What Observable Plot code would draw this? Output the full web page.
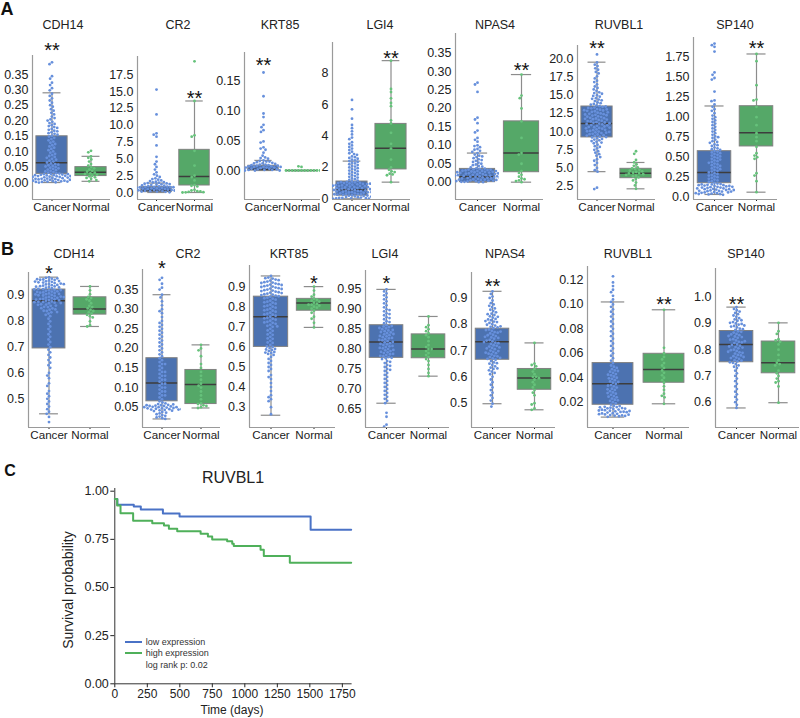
<!DOCTYPE html>
<html><head><meta charset="utf-8">
<script src="https://cdn.jsdelivr.net/npm/d3@7"></script>
<script src="https://cdn.jsdelivr.net/npm/@observablehq/plot@0.6"></script>
<style>
body{margin:0;background:#fff;font-family:"Liberation Sans",Arial,sans-serif;}
#fig{position:relative;width:800px;height:718px;overflow:hidden;background:#fff;}
.lbl{position:absolute;transform:translate(-50%,-50%);white-space:nowrap;line-height:1;color:#222;}
.lft{position:absolute;transform:translate(0,-50%);white-space:nowrap;line-height:1;color:#333;}
svg{position:absolute;overflow:visible;}
#fig svg g[aria-label^="y-axis"] text{font-size:12.5px;}
#fig svg g[aria-label^="fx-axis"] text{font-size:11.6px;}
#fig svg g[aria-label^="x-axis"] text{font-size:12px;}
</style></head>
<body><div id="fig"></div>
<script>
// ================= DATA =================
const groups = ["Cancer", "Normal"];
const genes = ["CDH14", "CR2", "KRT85", "LGI4", "NPAS4", "RUVBL1", "SP140"];
// box stats per group: [lower whisker, Q1, median, Q3, upper whisker]

// ---- Panel A (expression) ----
const aCDH14Cancer = [0.39,0.384,0.345,0.337,0.324,0.316,0.306,0.299,0.288,0.281,0.273,0.266,0.259,0.251,0.246,0.238,0.233,0.226,0.221,0.214,0.209,0.205,0.201,0.197,0.193,0.19,0.186,0.183,0.18,0.177,0.174,0.171,0.168,0.166,0.163,0.16,0.158,0.155,0.152,0.149,0.145,0.141,0.137,0.133,0.129,0.125,0.121,0.117,0.113,0.109,0.105,0.101,0.097,0.093,0.089,0.086,0.083,0.08,0.077,0.074,0.071,0.068,0.065,0.062,0.06,0.058,0.056,0.054,0.052,0.05,0.048,0.046,0.044,0.042,0.04,0.038,0.036,0.034,0.032,0.03,0.029,0.028,0.027,0.026,0.025,0.024,0.023,0.022,0.021,0.02,0.019,0.018,0.017,0.016,0.015,0.014,0.013,0.012,0.011,0.01,0.009,0.008,0.007,0.006,0.005,0.004,0.003,0.002,0.001,0.0,0.027,0.024,0.021,0.018,0.015,0.012,0.009,0.006,0.003,0.025,0.02,0.016,0.011,0.007,0.002];
const aCDH14Normal = [0.103,0.098,0.085,0.08,0.075,0.068,0.06,0.055,0.05,0.046,0.042,0.038,0.035,0.032,0.03,0.028,0.025,0.022,0.02,0.017,0.015,0.012,0.008,0.004];
const aCDH14Box = [[0.0,0.028,0.064,0.15,0.291],[0.004,0.021,0.033,0.05,0.085]];
const aCDH14Ticks = ["0.00","0.05","0.10","0.15","0.20","0.25","0.30","0.35"];
const aCDH14Domain = [-0.055, 0.412];
const aCDH14Stars = [{g:"Cancer", s:"**", y:0.444}];

const aCR2Cancer = [15.3,11.6,8.8,8.6,8.3,7.0,5.3,4.6,4.2,3.8,3.4,3.0,2.7,2.5,2.3,2.1,2.0,1.9,1.8,1.7,1.6,1.55,1.5,1.45,1.4,1.35,1.3,1.25,1.2,1.15,1.1,1.05,1.0,0.95,0.9,0.88,0.85,0.82,0.8,0.78,0.75,0.72,0.7,0.68,0.65,0.62,0.6,0.58,0.55,0.52,0.5,0.48,0.45,0.42,0.4,0.38,0.36,0.34,0.32,0.3,0.28,0.26,0.24,0.22,0.2,0.19,0.18,0.17,0.16,0.15,0.14,0.13,0.12,0.11,0.1,0.09,0.08,0.07,0.06,0.05,0.04,0.03,0.02,0.01,0.0,0.25,0.15,0.05,0.1,0.2,0.35,0.45];
const aCR2Normal = [19.5,13.6,8.5,8.3,6.2,4.0,2.5,2.3,1.8,1.1,1.0,0.9,0.4,0.3,0.2,0.15,0.1,0.05,0.02,0.0];
const aCR2Box = [[0.0,0.05,0.3,0.8,1.4],[0.0,1.04,2.38,6.34,13.6]];
const aCR2Ticks = ["0.0","2.5","5.0","7.5","10.0","12.5","15.0","17.5"];
const aCR2Domain = [-1.04, 20.21];
const aCR2Stars = [{g:"Normal", s:"**", y:14.75}];

const aKRT85Cancer = [0.165,0.125,0.096,0.09,0.077,0.073,0.068,0.065,0.049,0.047,0.039,0.037,0.035,0.03,0.025,0.022,0.021,0.02,0.017,0.016,0.015,0.015,0.014,0.013,0.012,0.012,0.011,0.01,0.01,0.009,0.009,0.008,0.008,0.007,0.007,0.006,0.006,0.006,0.005,0.005,0.005,0.004,0.004,0.004,0.003,0.003,0.003,0.003,0.002,0.002,0.002,0.002,0.002,0.001,0.001,0.001,0.001,0.001,0.001,0,0,0,0,0,0,0,0,0,0,0,0,0,0,0];
const aKRT85Normal = [0.006,0,0,0,0,0,0,0,0,0,0,0,0,0.007];
const aKRT85Box = [[0,0,0.002,0.008,0.017],[0,0,0,0,0]];
const aKRT85Ticks = ["0.00","0.05","0.10","0.15"];
const aKRT85Domain = [-0.0488, 0.1987];
const aKRT85Stars = [{g:"Cancer", s:"**", y:0.185}];

const aLGI4Cancer = [6.3,5.7,5.1,4.7,4.5,4.3,4.1,3.9,3.8,3.6,3.5,3.4,3.3,3.2,3.1,3.0,2.9,2.85,2.8,2.7,2.65,2.6,2.55,2.5,2.45,2.4,2.35,2.3,2.25,2.2,2.15,2.1,2.05,2.0,1.95,1.9,1.85,1.8,1.75,1.7,1.65,1.6,1.55,1.5,1.45,1.4,1.35,1.3,1.25,1.2,1.15,1.1,1.08,1.05,1.02,1.0,0.98,0.95,0.92,0.9,0.88,0.85,0.82,0.8,0.78,0.75,0.72,0.7,0.68,0.65,0.62,0.6,0.58,0.55,0.52,0.5,0.48,0.45,0.42,0.4,0.38,0.35,0.32,0.3,0.28,0.25,0.22,0.2,0.18,0.15,0.12,0.1,0.08,0.06,0.05,0.04,0.03,0.02,0.01,0.0,1.06,1.0,0.94,0.87,0.81,0.74,0.67,0.61,0.54,0.47,0.41,0.34,0.27,0.21,0.14,0.07,0.02,0.96,0.83,0.69,0.56,0.43,0.29,0.16,0.04];
const aLGI4Normal = [8.8,7.0,6.8,6.4,6.1,5.9,5.0,4.8,4.2,3.5,3.2,2.5,2.0,1.85,1.75,1.7,1.6,1.55,1.5,1.06];
const aLGI4Box = [[0.0,0.2,0.57,1.1,2.4],[1.06,1.87,3.22,4.77,8.8]];
const aLGI4Ticks = ["0","2","4","6","8"];
const aLGI4Domain = [-0.045, 9.955];
const aLGI4Stars = [{g:"Normal", s:"**", y:9.24}];

const aNPAS4Cancer = [0.27,0.265,0.245,0.175,0.17,0.16,0.14,0.135,0.12,0.115,0.11,0.1,0.098,0.095,0.09,0.088,0.085,0.082,0.079,0.075,0.072,0.07,0.068,0.065,0.062,0.06,0.058,0.055,0.053,0.05,0.048,0.046,0.044,0.042,0.04,0.038,0.037,0.036,0.035,0.034,0.033,0.032,0.031,0.03,0.029,0.028,0.027,0.026,0.025,0.024,0.023,0.022,0.021,0.02,0.019,0.018,0.017,0.016,0.015,0.014,0.013,0.012,0.011,0.01,0.009,0.008,0.007,0.006,0.005,0.004,0.003,0.002,0.001,0.0,0.034,0.031,0.028,0.025,0.022,0.019,0.016,0.013,0.01,0.007,0.004,0.001,0.03,0.024,0.018,0.012,0.006,0.0,0.027,0.015,0.003];
const aNPAS4Normal = [0.292,0.235,0.228,0.2,0.165,0.12,0.079,0.075,0.05,0.03,0.025,0.02,0.015,0.01,0.008,0.005,0.003,0.0];
const aNPAS4Box = [[0.0,0.0,0.015,0.036,0.079],[0.0,0.027,0.079,0.165,0.292]];
const aNPAS4Ticks = ["0.00","0.05","0.10","0.15","0.20","0.25","0.30","0.35"];
const aNPAS4Domain = [-0.047, 0.4034];
const aNPAS4Stars = [{g:"Normal", s:"**", y:0.3166}];

const aRUVBL1Cancer = [20.6,19.5,19.2,19.0,18.7,18.5,18.2,18.0,17.6,17.3,17.0,16.8,16.5,16.2,16.0,15.8,15.6,15.4,15.3,15.2,15.0,14.9,14.8,14.6,14.5,14.4,14.3,14.2,14.0,13.9,13.8,13.7,13.6,13.5,13.4,13.3,13.2,13.1,13.0,12.9,12.8,12.7,12.6,12.5,12.4,12.3,12.2,12.1,12.0,11.9,11.8,11.7,11.6,11.5,11.4,11.3,11.2,11.1,11.0,10.9,10.8,10.7,10.6,10.5,10.4,10.3,10.2,10.1,10.0,9.9,9.8,9.7,9.6,9.5,9.4,9.3,9.2,13.45,13.25,13.05,12.85,12.65,12.45,12.25,12.05,11.85,11.65,11.45,11.25,11.05,10.85,10.65,10.45,10.25,10.05,9.85,9.65,9.45,9.25,12.95,12.35,11.75,11.15,10.55,9.95,9.1,9.0,8.9,8.8,8.7,8.6,8.5,8.4,8.2,8.0,7.9,7.7,7.5,7.3,7.1,6.9,6.7,6.5,6.2,6.0,5.7,5.4,5.0,4.7,4.5,2.3,2.1];
const aRUVBL1Normal = [7.3,6.95,6.1,5.76,5.5,5.3,5.1,4.95,4.85,4.75,4.65,4.55,4.45,4.35,4.3,4.25,4.15,4.05,3.95,3.85,3.7,3.5,3.3,3.0,2.6,2.14];
const aRUVBL1Box = [[4.5,9.2,11.1,13.45,19.54],[2.14,3.6,4.29,4.89,5.76]];
const aRUVBL1Ticks = ["2.5","5.0","7.5","10.0","12.5","15.0","17.5","20.0"];
const aRUVBL1Domain = [0.673, 21.83];
const aRUVBL1Stars = [{g:"Cancer", s:"**", y:22.14}];

const aSP140Cancer = [1.92,1.9,1.88,1.82,1.56,1.53,1.49,1.47,1.32,1.21,1.2,1.16,1.13,1.1,1.08,1.05,1.02,1.0,0.98,0.96,0.94,0.92,0.9,0.88,0.86,0.84,0.82,0.8,0.78,0.76,0.75,0.74,0.72,0.7,0.69,0.68,0.66,0.65,0.64,0.62,0.61,0.6,0.59,0.58,0.57,0.56,0.55,0.54,0.53,0.52,0.51,0.5,0.49,0.48,0.47,0.46,0.45,0.44,0.43,0.42,0.41,0.4,0.39,0.38,0.37,0.36,0.35,0.34,0.33,0.32,0.31,0.3,0.29,0.28,0.27,0.26,0.25,0.24,0.23,0.22,0.21,0.2,0.19,0.18,0.17,0.165,0.16,0.155,0.15,0.145,0.14,0.135,0.13,0.125,0.12,0.115,0.11,0.105,0.1,0.095,0.09,0.085,0.08,0.075,0.07,0.065,0.06,0.055,0.05,0.045,0.04,0.035,0.03,0.16,0.14,0.12,0.1,0.08,0.06,0.04,0.15,0.11,0.07,0.05,0.13,0.09];
const aSP140Normal = [1.79,1.7,1.4,1.22,1.21,1.13,1.0,0.9,0.8,0.75,0.7,0.63,0.55,0.52,0.5,0.48,0.3,0.27,0.2,0.0625];
const aSP140Box = [[0.034,0.175,0.31,0.575,1.14],[0.0625,0.634,0.805,1.137,1.79]];
const aSP140Ticks = ["0.0","0.25","0.50","0.75","1.00","1.25","1.50","1.75"];
const aSP140Domain = [-0.029, 1.996];
const aSP140Stars = [{g:"Normal", s:"**", y:1.92}];

// ---- Panel B ----
const bCDH14Cancer = [0.97,0.968,0.965,0.962,0.96,0.958,0.955,0.953,0.95,0.948,0.945,0.943,0.94,0.938,0.935,0.933,0.93,0.928,0.925,0.922,0.92,0.918,0.915,0.912,0.91,0.908,0.905,0.902,0.9,0.898,0.895,0.892,0.89,0.887,0.885,0.882,0.88,0.877,0.875,0.872,0.87,0.865,0.86,0.855,0.85,0.845,0.84,0.835,0.83,0.825,0.82,0.81,0.8,0.79,0.78,0.77,0.76,0.75,0.74,0.73,0.72,0.71,0.7,0.69,0.68,0.67,0.66,0.65,0.64,0.63,0.62,0.6,0.59,0.58,0.56,0.55,0.53,0.52,0.51,0.5,0.49,0.48,0.47,0.46,0.45,0.442,0.43,0.41,0.966,0.961,0.956,0.951,0.946,0.941,0.936,0.931,0.926,0.921,0.916,0.911,0.906,0.901,0.896,0.891,0.886,0.881,0.876,0.871,0.866,0.861,0.856,0.851,0.846,0.841,0.836,0.963,0.954,0.944,0.934,0.924,0.914,0.904,0.894,0.884,0.874,0.864];
const bCDH14Normal = [0.935,0.92,0.905,0.895,0.89,0.885,0.88,0.87,0.86,0.855,0.85,0.845,0.84,0.835,0.83,0.825,0.82,0.815,0.8,0.785,0.78];
const bCDH14Box = [[0.442,0.695,0.88,0.923,0.971],[0.78,0.826,0.848,0.893,0.935]];
const bCDH14Ticks = ["0.5","0.6","0.7","0.8","0.9"];
const bCDH14Domain = [0.389, 0.989];
const bCDH14Stars = [{g:"Cancer", s:"*", y:1.003}];

const bCR2Cancer = [0.38,0.375,0.365,0.355,0.35,0.337,0.33,0.32,0.31,0.3,0.295,0.29,0.28,0.27,0.265,0.26,0.255,0.25,0.245,0.24,0.235,0.23,0.225,0.22,0.215,0.21,0.205,0.2,0.195,0.19,0.185,0.18,0.175,0.17,0.165,0.16,0.155,0.15,0.145,0.14,0.135,0.13,0.125,0.12,0.115,0.11,0.105,0.1,0.095,0.09,0.085,0.08,0.075,0.07,0.065,0.062,0.06,0.058,0.056,0.055,0.054,0.053,0.052,0.051,0.05,0.049,0.048,0.047,0.046,0.045,0.044,0.043,0.042,0.04,0.038,0.036,0.034,0.032,0.03,0.028,0.026,0.024,0.022,0.02,0.057,0.053,0.05,0.047,0.044,0.041,0.055,0.05,0.045,0.16,0.13,0.1,0.08,0.12,0.14,0.11,0.09];
const bCR2Normal = [0.209,0.2,0.195,0.18,0.16,0.15,0.14,0.13,0.12,0.11,0.105,0.1,0.09,0.08,0.07,0.06,0.058,0.055,0.053,0.05,0.048];
const bCR2Box = [[0.02,0.065,0.112,0.175,0.337],[0.048,0.058,0.108,0.145,0.209]];
const bCR2Ticks = ["0.05","0.10","0.15","0.20","0.25","0.30","0.35"];
const bCR2Domain = [-0.0018, 0.4013];
const bCR2Stars = [{g:"Cancer", s:"*", y:0.4156}];

const bKRT85Cancer = [0.953,0.945,0.94,0.935,0.93,0.925,0.92,0.915,0.91,0.905,0.9,0.895,0.89,0.885,0.88,0.875,0.87,0.865,0.86,0.855,0.85,0.845,0.84,0.835,0.83,0.825,0.82,0.815,0.81,0.805,0.8,0.795,0.79,0.785,0.78,0.775,0.77,0.765,0.76,0.755,0.75,0.745,0.74,0.735,0.73,0.725,0.72,0.715,0.71,0.705,0.7,0.69,0.68,0.67,0.66,0.65,0.64,0.63,0.62,0.61,0.6,0.595,0.59,0.585,0.58,0.575,0.57,0.565,0.56,0.55,0.54,0.53,0.52,0.51,0.5,0.49,0.48,0.46,0.45,0.44,0.42,0.4,0.38,0.36,0.35,0.34,0.33,0.3,0.265,0.942,0.932,0.922,0.912,0.902,0.892,0.882,0.872,0.862,0.852,0.918,0.898,0.878,0.858,0.908,0.888,0.868,0.842,0.822,0.802,0.782,0.762,0.742,0.722,0.702,0.682,0.662,0.642,0.622,0.602,0.587,0.572];
const bKRT85Normal = [0.9,0.88,0.86,0.85,0.84,0.835,0.83,0.825,0.82,0.815,0.81,0.81,0.805,0.8,0.795,0.79,0.78,0.77,0.75,0.74,0.72,0.697];
const bKRT85Box = [[0.26,0.6,0.75,0.85,0.953],[0.697,0.78,0.819,0.839,0.9]];
const bKRT85Ticks = ["0.3","0.4","0.5","0.6","0.7","0.8","0.9"];
const bKRT85Domain = [0.199, 1.005];
const bKRT85Stars = [{g:"Normal", s:"*", y:0.938}];

const bLGI4Cancer = [0.95,0.945,0.94,0.935,0.93,0.925,0.92,0.915,0.91,0.905,0.9,0.895,0.89,0.885,0.88,0.875,0.87,0.865,0.86,0.857,0.855,0.852,0.85,0.847,0.845,0.842,0.84,0.837,0.835,0.832,0.83,0.827,0.825,0.822,0.82,0.817,0.815,0.812,0.81,0.807,0.805,0.802,0.8,0.797,0.795,0.792,0.79,0.787,0.785,0.782,0.78,0.777,0.775,0.77,0.765,0.76,0.755,0.75,0.745,0.74,0.735,0.73,0.725,0.72,0.715,0.71,0.705,0.7,0.695,0.69,0.685,0.68,0.675,0.67,0.664,0.64,0.63,0.61,0.605,0.858,0.853,0.848,0.843,0.838,0.833,0.828,0.823,0.818,0.813,0.808,0.803,0.798,0.793,0.788,0.783,0.778,0.898,0.888,0.878,0.868,0.768,0.758,0.748];
const bLGI4Normal = [0.882,0.86,0.855,0.85,0.845,0.84,0.835,0.83,0.82,0.81,0.805,0.8,0.8,0.795,0.79,0.785,0.78,0.775,0.77,0.76,0.75,0.74,0.732];
const bLGI4Box = [[0.664,0.778,0.818,0.86,0.95],[0.732,0.777,0.8,0.837,0.882]];
const bLGI4Ticks = ["0.65","0.70","0.75","0.80","0.85","0.90","0.95"];
const bLGI4Domain = [0.603, 0.9975];
const bLGI4Stars = [{g:"Cancer", s:"*", y:0.977}];

const bNPAS4Cancer = [0.925,0.915,0.905,0.9,0.89,0.88,0.875,0.87,0.865,0.86,0.855,0.85,0.845,0.84,0.835,0.83,0.825,0.82,0.815,0.81,0.805,0.8,0.795,0.79,0.785,0.78,0.775,0.77,0.765,0.76,0.755,0.75,0.745,0.74,0.735,0.73,0.725,0.72,0.715,0.71,0.705,0.7,0.695,0.69,0.685,0.68,0.675,0.67,0.665,0.66,0.655,0.65,0.645,0.64,0.635,0.63,0.625,0.62,0.615,0.61,0.6,0.59,0.58,0.57,0.56,0.55,0.54,0.53,0.52,0.51,0.498,0.487,0.838,0.828,0.818,0.808,0.798,0.788,0.778,0.768,0.758,0.748,0.738,0.728,0.718,0.708,0.698,0.688,0.678,0.668,0.812,0.792,0.772,0.752,0.732,0.712,0.692,0.672,0.652,0.632];
const bNPAS4Normal = [0.729,0.65,0.645,0.64,0.63,0.62,0.61,0.6,0.6,0.595,0.59,0.58,0.57,0.56,0.55,0.54,0.53,0.5,0.495,0.48,0.475];
const bNPAS4Box = [[0.498,0.665,0.733,0.783,0.925],[0.475,0.551,0.596,0.63,0.729]];
const bNPAS4Ticks = ["0.5","0.6","0.7","0.8","0.9"];
const bNPAS4Domain = [0.4077, 0.9964];
const bNPAS4Stars = [{g:"Cancer", s:"**", y:0.963}];

const bRUVBL1Cancer = [0.123,0.118,0.115,0.112,0.11,0.107,0.104,0.102,0.1,0.098,0.096,0.094,0.092,0.09,0.088,0.086,0.084,0.082,0.08,0.078,0.076,0.074,0.072,0.07,0.068,0.066,0.064,0.062,0.06,0.058,0.056,0.054,0.052,0.05,0.049,0.048,0.047,0.046,0.045,0.044,0.043,0.042,0.041,0.04,0.039,0.038,0.037,0.036,0.035,0.034,0.033,0.032,0.031,0.03,0.029,0.028,0.027,0.026,0.025,0.024,0.023,0.022,0.021,0.02,0.019,0.018,0.017,0.016,0.0155,0.015,0.0145,0.014,0.0135,0.013,0.0125,0.012,0.0115,0.011,0.0105,0.01,0.0095,0.009,0.0085,0.008,0.0168,0.0152,0.0138,0.0122,0.0108,0.0092,0.0162,0.0148,0.0132,0.0118,0.0102,0.0088,0.0158,0.0128,0.0098,0.0215,0.0245,0.0275,0.0305,0.0335,0.0365,0.0395,0.0425,0.0455];
const bRUVBL1Normal = [0.0956,0.0645,0.06,0.057,0.055,0.052,0.05,0.048,0.046,0.044,0.042,0.04,0.038,0.036,0.033,0.03,0.027,0.0252,0.024,0.0187];
const bRUVBL1Box = [[0.0078,0.0179,0.035,0.052,0.102],[0.0187,0.0359,0.0467,0.0596,0.0956]];
const bRUVBL1Ticks = ["0.02","0.04","0.06","0.08","0.10","0.12"];
const bRUVBL1Domain = [-0.0007, 0.131];
const bRUVBL1Stars = [{g:"Normal", s:"**", y:0.104}];

const bSP140Cancer = [0.962,0.955,0.95,0.945,0.94,0.935,0.93,0.925,0.92,0.915,0.91,0.905,0.9,0.895,0.89,0.885,0.88,0.875,0.87,0.865,0.86,0.855,0.85,0.845,0.84,0.835,0.83,0.825,0.82,0.815,0.81,0.805,0.8,0.795,0.79,0.785,0.78,0.775,0.77,0.765,0.76,0.755,0.75,0.745,0.74,0.735,0.73,0.72,0.71,0.7,0.69,0.68,0.67,0.66,0.65,0.64,0.63,0.62,0.61,0.6,0.59,0.578,0.868,0.858,0.848,0.838,0.828,0.818,0.808,0.798,0.788,0.778,0.768,0.758,0.898,0.888,0.878,0.912,0.902,0.892,0.852,0.832,0.812,0.792,0.772,0.752];
const bSP140Normal = [0.902,0.87,0.86,0.84,0.835,0.83,0.82,0.8,0.78,0.76,0.75,0.745,0.74,0.72,0.71,0.7,0.69,0.68,0.675,0.66,0.598];
const bSP140Box = [[0.578,0.752,0.82,0.871,0.962],[0.598,0.71,0.75,0.831,0.902]];
const bSP140Ticks = ["0.6","0.7","0.8","0.9","1.0"];
const bSP140Domain = [0.5036, 1.109];
const bSP140Stars = [{g:"Cancer", s:"**", y:0.99}];

// ---- Panel C (Kaplan–Meier, RUVBL1) ----
const kmLowDays  = [0, 20, 146, 200, 370, 498, 1506, 1818];
const kmLowSurv  = [0.96, 0.93, 0.92, 0.905, 0.884, 0.869, 0.80, 0.80];
const kmHighDays = [0, 18, 44, 141, 288, 378, 416, 480, 660, 716, 749, 864, 903, 915, 1121, 1146, 1346, 1818];
const kmHighSurv = [0.96, 0.926, 0.886, 0.846, 0.834, 0.822, 0.805, 0.792, 0.779, 0.765, 0.749, 0.74, 0.727, 0.715, 0.696, 0.663, 0.628, 0.628];
const kmXTicks = [0, 250, 500, 750, 1000, 1250, 1500, 1750];
const kmYTicks = ["0.00", "0.25", "0.50", "0.75", "1.00"];
const kmLegend = ["low expression", "high expression", "log rank p: 0.02"];

// ================= LAYOUT (pixels) =================
const layoutA = {svgTop: 28, bottom: 199, titleY: 25,
  panels: [{left:32,right:110,top:55,tx:63},{left:137,right:213,top:56,tx:178},{left:243,right:320,top:52,tx:280},
           {left:331,right:410,top:42,tx:380},{left:455,right:543,top:33,tx:495},{left:577,right:655,top:45,tx:619},
           {left:692,right:777,top:37,tx:735}]};
const layoutB = {svgTop: 256, bottom: 427, titleY: 254,
  panels: [{left:28,right:110,top:272,tx:74},{left:142,right:220,top:269,tx:188},{left:248,right:335,top:265,tx:289},
           {left:365,right:449,top:270,tx:385},{left:470,right:555,top:272,tx:505},{left:587,right:689,top:266,tx:628},
           {left:715,right:799,top:268,tx:746}]};

const FONT = "'Liberation Sans', Arial, sans-serif";
const boxFill = ["#4c72b0", "#55a868"];
const dotFill = ["#6790dc", "#66c27b"];
const fig = document.getElementById("fig");

function label(txt, x, y, css, cls) {
  const d = document.createElement("div");
  d.className = cls || "lbl";
  d.textContent = txt;
  d.style.left = x + "px"; d.style.top = y + "px";
  Object.assign(d.style, css || {});
  fig.appendChild(d);
  return d;
}

function boxPanel(gene, cancer, normal, box, tickLabels, domain, stars, L, row) {
  const mL = 36, mR = 1, mB = 22;
  const inner = L.right - L.left;
  const mT = L.top - row.svgTop;
  const width = mL + inner + mR;
  const height = mT + (row.bottom - L.top) + mB;
  const half = inner / 2;
  const inset = half * 0.1, capInset = half * 0.27;
  const tickVals = tickLabels.map(Number);
  const tickMap = new Map(tickVals.map((v, i) => [v, tickLabels[i]]));
  const cPts = cancer.map(v => ({g: "Cancer", v}));
  const nPts = normal.map(v => ({g: "Normal", v}));
  const bx = groups.map((g, i) => ({g, lo: box[i][0], q1: box[i][1], med: box[i][2], q3: box[i][3], hi: box[i][4]}));
  const spine = "#9a9a9a", whisk = "#8c8c8c";
  const svg = Plot.plot({
    width, height, marginLeft: mL, marginRight: mR, marginTop: mT, marginBottom: mB,
    style: {fontFamily: FONT, fontSize: "12.5px", color: "#222", background: "none", overflow: "visible"},
    fx: {domain: groups, padding: 0, axis: "bottom", label: null, tickSize: 2, tickPadding: 1},
    x: {domain: [-1, 1], axis: null},
    y: {domain, ticks: tickVals, tickFormat: d => tickMap.get(d) ?? "", label: null, tickSize: 0, tickPadding: 4},
    color: {domain: groups, range: boxFill},
    marks: [
      Plot.ruleY([domain[0]], {stroke: spine, strokeWidth: 1.2}),
      Plot.ruleX([-1], {fx: () => "Cancer", stroke: spine, strokeWidth: 1.2}),
      Plot.ruleX(bx, {fx: "g", x: 0, y1: "lo", y2: "hi", stroke: whisk, strokeWidth: 1.2}),
      Plot.tickY(bx, {fx: "g", y: "lo", insetLeft: capInset, insetRight: capInset, stroke: whisk, strokeWidth: 1.2}),
      Plot.tickY(bx, {fx: "g", y: "hi", insetLeft: capInset, insetRight: capInset, stroke: whisk, strokeWidth: 1.2}),
      Plot.barY(bx, {fx: "g", y1: "q1", y2: "q3", fill: "g", stroke: "#808080", strokeWidth: 1, insetLeft: inset, insetRight: inset}),
      Plot.tickY(bx, {fx: "g", y: "med", insetLeft: inset, insetRight: inset, stroke: "#3d3d3d", strokeWidth: 1.5}),
      Plot.dot(cPts, Plot.dodgeX({anchor: "middle", padding: 0.3}, {fx: "g", y: "v", r: 1.4, fill: dotFill[0], clip: true})),
      Plot.dot(nPts, Plot.dodgeX({anchor: "middle", padding: 0.3}, {fx: "g", y: "v", r: 1.4, fill: dotFill[1], clip: true})),
      Plot.text(stars, {fx: "g", y: "y", text: "s", fontSize: 20, dy: 5, fill: "#111"})
    ]
  });
  svg.style.left = (L.left - mL) + "px";
  svg.style.top = row.svgTop + "px";
  fig.appendChild(svg);
  label(gene, L.tx, row.titleY, {fontSize: "12.5px"});
}

const rowAData = [
  [aCDH14Cancer, aCDH14Normal, aCDH14Box, aCDH14Ticks, aCDH14Domain, aCDH14Stars],
  [aCR2Cancer, aCR2Normal, aCR2Box, aCR2Ticks, aCR2Domain, aCR2Stars],
  [aKRT85Cancer, aKRT85Normal, aKRT85Box, aKRT85Ticks, aKRT85Domain, aKRT85Stars],
  [aLGI4Cancer, aLGI4Normal, aLGI4Box, aLGI4Ticks, aLGI4Domain, aLGI4Stars],
  [aNPAS4Cancer, aNPAS4Normal, aNPAS4Box, aNPAS4Ticks, aNPAS4Domain, aNPAS4Stars],
  [aRUVBL1Cancer, aRUVBL1Normal, aRUVBL1Box, aRUVBL1Ticks, aRUVBL1Domain, aRUVBL1Stars],
  [aSP140Cancer, aSP140Normal, aSP140Box, aSP140Ticks, aSP140Domain, aSP140Stars]
];
const rowBData = [
  [bCDH14Cancer, bCDH14Normal, bCDH14Box, bCDH14Ticks, bCDH14Domain, bCDH14Stars],
  [bCR2Cancer, bCR2Normal, bCR2Box, bCR2Ticks, bCR2Domain, bCR2Stars],
  [bKRT85Cancer, bKRT85Normal, bKRT85Box, bKRT85Ticks, bKRT85Domain, bKRT85Stars],
  [bLGI4Cancer, bLGI4Normal, bLGI4Box, bLGI4Ticks, bLGI4Domain, bLGI4Stars],
  [bNPAS4Cancer, bNPAS4Normal, bNPAS4Box, bNPAS4Ticks, bNPAS4Domain, bNPAS4Stars],
  [bRUVBL1Cancer, bRUVBL1Normal, bRUVBL1Box, bRUVBL1Ticks, bRUVBL1Domain, bRUVBL1Stars],
  [bSP140Cancer, bSP140Normal, bSP140Box, bSP140Ticks, bSP140Domain, bSP140Stars]
];
genes.forEach((g, i) => boxPanel(g, ...rowAData[i], layoutA.panels[i], layoutA));
genes.forEach((g, i) => boxPanel(g, ...rowBData[i], layoutB.panels[i], layoutB));

// ---- Kaplan–Meier ----
const kmLow = kmLowDays.map((t, i) => ({t, s: kmLowSurv[i]}));
const kmHigh = kmHighDays.map((t, i) => ({t, s: kmHighSurv[i]}));
const kmBlue = "#4a72c6", kmGreen = "#4fb05a";
const kmYMap = new Map(kmYTicks.map(s => [Number(s), s]));
const km = Plot.plot({
  width: 380, height: 258, marginLeft: 114.3, marginRight: 28.4, marginTop: 28, marginBottom: 34.7,
  style: {fontFamily: FONT, fontSize: "12.5px", color: "#222", background: "none", overflow: "visible"},
  x: {domain: [0, 1825], ticks: kmXTicks, tickFormat: d => String(d), tickSize: 4, tickPadding: 2, label: null},
  y: {domain: [0, 1.014], ticks: kmYTicks.map(Number), tickFormat: d => kmYMap.get(d) ?? "", tickSize: 4, tickPadding: 2, label: null},
  marks: [
    Plot.ruleX([0], {stroke: "#333"}),
    Plot.ruleY([0], {stroke: "#333"}),
    Plot.line(kmLow, {x: "t", y: "s", curve: "step-after", stroke: kmBlue, strokeWidth: 2}),
    Plot.line(kmHigh, {x: "t", y: "s", curve: "step-after", stroke: kmGreen, strokeWidth: 2})
  ]
});
km.style.left = "0px"; km.style.top = "460px";
fig.appendChild(km);

// ---- annotations ----
label("A", 7, 9, {fontSize: "18px", fontWeight: "bold", color: "#111"});
label("B", 7.5, 249, {fontSize: "18px", fontWeight: "bold", color: "#111"});
label("C", 10, 471, {fontSize: "16px", fontWeight: "bold", color: "#111"});
label("RUVBL1", 233, 478, {fontSize: "16px"});
label("Survival probability", 68, 590, {fontSize: "14px", transform: "translate(-50%,-50%) rotate(-90deg)"});
label("Time (days)", 232, 710, {fontSize: "12px"});
// legend
[[kmBlue, 642.3], [kmGreen, 653.3]].forEach(([c, y]) => {
  const ln = document.createElement("div");
  Object.assign(ln.style, {position: "absolute", left: "125px", top: (y - 1) + "px", width: "17px", height: "2px", background: c});
  fig.appendChild(ln);
});
label(kmLegend[0], 145.7, 642.3, {fontSize: "9px"}, "lft");
label(kmLegend[1], 145.7, 653.3, {fontSize: "9px"}, "lft");
label(kmLegend[2], 145.7, 665, {fontSize: "9px"}, "lft");
</script>
</body></html>
